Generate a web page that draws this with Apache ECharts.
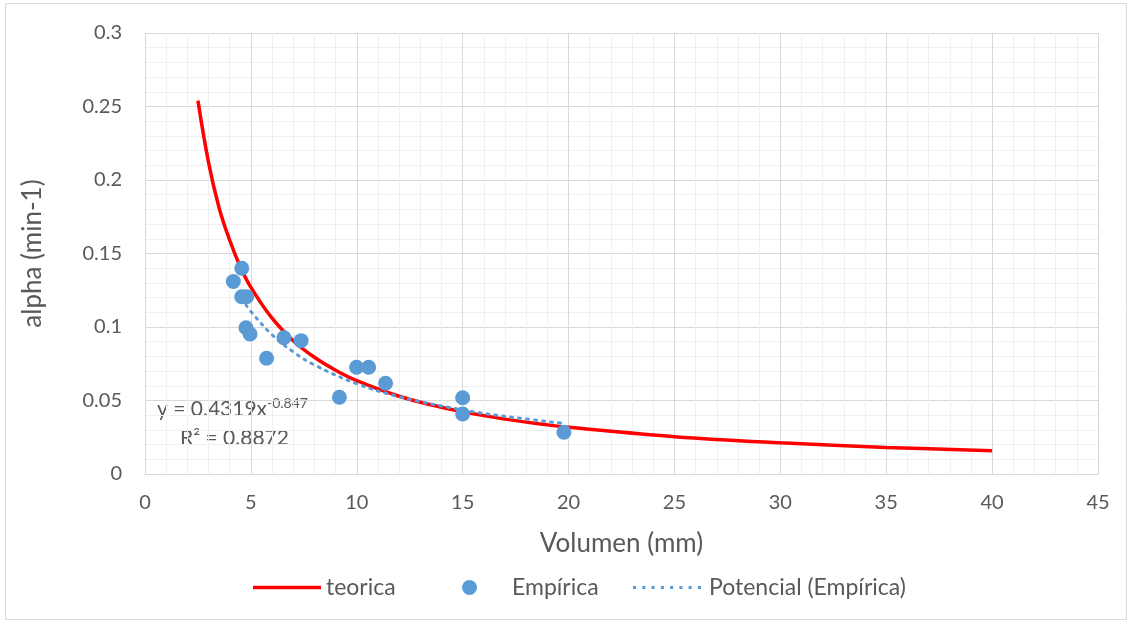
<!DOCTYPE html>
<html><head><meta charset="utf-8">
<script src="https://cdn.jsdelivr.net/npm/echarts@6/dist/echarts.min.js"></script>
<style>html,body{margin:0;padding:0;background:#fff}#c{width:1132px;height:623px}</style>
</head><body><div id="c"></div>
<script>
// Teorica curve
const teoricaX = [2.5, 3, 3.5, 4, 4.5, 5, 6, 7, 8, 9, 10, 12, 14, 16, 18, 20, 25, 30, 35, 40];
const teoricaY = [0.254, 0.212, 0.181, 0.159, 0.141, 0.127, 0.106, 0.0907, 0.0794, 0.0706, 0.0635, 0.0529, 0.0454, 0.0397, 0.0353, 0.0318, 0.0254, 0.0212, 0.0181, 0.0159];
// Empirical points
const empX = [4.57, 4.17, 4.57, 4.80, 4.77, 4.96, 5.74, 6.56, 7.37, 9.18, 9.99, 10.56, 11.36, 15.0, 15.0, 19.78];
const empY = [0.140, 0.131, 0.1206, 0.1206, 0.0995, 0.0952, 0.0787, 0.0927, 0.0907, 0.0522, 0.0726, 0.0726, 0.0617, 0.0519, 0.0408, 0.0284];
// Power trendline (Potencial)
const trendX = [4.77, 5, 6, 7, 8, 10, 12, 15, 17.5, 19.78];
const trendY = [0.1150, 0.1105, 0.0947, 0.0831, 0.0742, 0.0614, 0.0526, 0.0436, 0.0383, 0.0344];
const xTicks = [0, 5, 10, 15, 20, 25, 30, 35, 40, 45];
const yTicks = [0, 0.05, 0.1, 0.15, 0.2, 0.25, 0.3];

const pair = (xs, ys) => xs.map((x, i) => [x, ys[i]]);
const font = 'Lato, "Open Sans", sans-serif';
const txt = '#595959';

let dots = '';
for (let i = 0; i < 8; i++) dots += 'M' + (i * 9) + ',0h3v3h-3z';

const legendBase = {
  top: 576, padding: 0, itemWidth: 68, itemHeight: 15, symbolKeepAspect: true
};
const legTxt = (pl) => ({ fontSize: 23, color: txt, fontFamily: font, padding: [0, 0, 0, pl] });

const chart = echarts.init(document.getElementById('c'));
chart.setOption({
  animation: false,
  textStyle: { fontFamily: font },
  grid: { left: 145, right: 34, top: 33, bottom: 149 },
  graphic: [
    { type: 'rect', shape: { x: 5.5, y: 3.5, width: 1121, height: 616 }, style: { fill: null, stroke: '#d9d9d9', lineWidth: 1 }, z: -10 },
    { type: 'text', x: 157, y: 399, style: { text: 'y = 0.4319x', fontSize: 21, fontFamily: font, fill: txt } },
    { type: 'text', x: 267, y: 396, style: { text: '-0.847', fontSize: 14, fontFamily: font, fill: txt } },
    { type: 'text', x: 180, y: 428, style: { text: 'R² = 0.8872', fontSize: 21, fontFamily: font, fill: txt } }
  ],
  legend: [
    Object.assign({}, legendBase, { left: 253, textStyle: legTxt(0),
      data: [{ name: 'teorica', icon: 'path://M0,0h68v3.5h-68z', itemStyle: { color: '#ff0000', borderWidth: 0 } }] }),
    Object.assign({}, legendBase, { left: 462, itemWidth: 15, textStyle: legTxt(30),
      data: [{ name: 'Empírica', icon: 'circle', itemStyle: { color: '#5b9bd5', borderWidth: 0 } }] }),
    Object.assign({}, legendBase, { left: 633, textStyle: legTxt(3),
      data: [{ name: 'Potencial (Empírica)', icon: 'path://' + dots, itemStyle: { color: '#5b9bd5', borderWidth: 0 } }] })
  ],
  xAxis: {
    type: 'value', min: 0, max: 45, interval: 5,
    name: 'Volumen (mm)', nameLocation: 'middle', nameGap: 57,
    nameTextStyle: { fontSize: 26, color: txt, fontFamily: font },
    axisLine: { show: true, lineStyle: { color: '#d9d9d9' } },
    axisTick: { show: false },
    axisLabel: { fontSize: 20, color: txt, margin: 19, formatter: v => xTicks.includes(v) ? String(v) : '' },
    splitLine: { show: true, lineStyle: { color: '#d9d9d9', width: 1 } },
    minorTick: { show: false, splitNumber: 5 },
    minorSplitLine: { show: true, lineStyle: { color: '#f0f0f0', width: 1 } }
  },
  yAxis: {
    type: 'value', min: 0, max: 0.3, interval: 0.05,
    name: 'alpha (min-1)', nameLocation: 'middle', nameGap: 99, nameRotate: 90,
    nameTextStyle: { fontSize: 26, color: txt, fontFamily: font },
    axisLine: { show: true, lineStyle: { color: '#d9d9d9' } },
    axisTick: { show: false },
    axisLabel: { fontSize: 20, color: txt, margin: 23, formatter: v => { const r = Math.round(v * 100) / 100; return yTicks.some(t => Math.abs(t - r) < 1e-9) ? String(r) : ''; } },
    splitLine: { show: true, lineStyle: { color: '#d9d9d9', width: 1 } },
    minorTick: { show: false, splitNumber: 5 },
    minorSplitLine: { show: true, lineStyle: { color: '#f0f0f0', width: 1 } }
  },
  series: [
    {
      name: 'teorica', type: 'line', data: pair(teoricaX, teoricaY), smooth: 0.4,
      showSymbol: false, symbol: 'none', z: 3,
      lineStyle: { color: '#ff0000', width: 3.5 }, itemStyle: { color: '#ff0000' }
    },
    {
      name: 'Empírica', type: 'scatter', data: pair(empX, empY), symbolSize: 15, z: 4,
      itemStyle: { color: '#5b9bd5', opacity: 1 }
    },
    {
      name: 'Potencial (Empírica)', type: 'line', data: pair(trendX, trendY), smooth: 0.4,
      showSymbol: false, symbol: 'none', z: 5,
      lineStyle: { color: '#5b9bd5', width: 3, type: [2, 6], cap: 'round' }, itemStyle: { color: '#5b9bd5' }
    }
  ]
});
</script></body></html>
